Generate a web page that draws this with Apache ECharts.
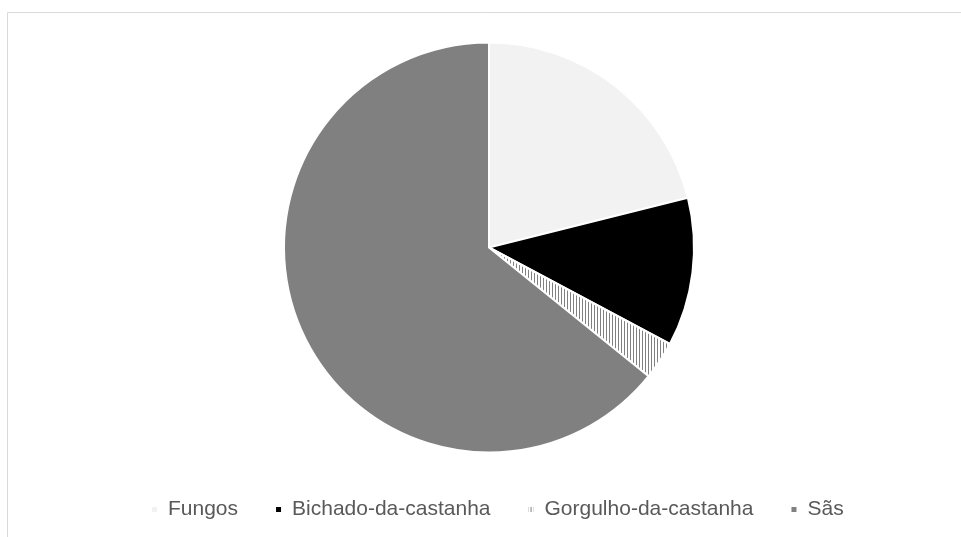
<!DOCTYPE html>
<html>
<head>
<meta charset="utf-8">
<script src="https://cdn.jsdelivr.net/npm/echarts@6/dist/echarts.min.js"></script>
<style>html,body{margin:0;padding:0;background:#fff;}#c{width:961px;height:537px;}</style>
</head>
<body>
<div id="c"></div>
<script>
const categories = ["Fungos", "Bichado-da-castanha", "Gorgulho-da-castanha", "Sãs"];
const values = [21.1, 11.7, 3.0, 64.2];

const pat = document.createElement('canvas');
pat.width = 3; pat.height = 4;
const pctx = pat.getContext('2d');
pctx.fillStyle = '#ffffff'; pctx.fillRect(0, 0, 3, 4);
pctx.fillStyle = '#808080'; pctx.fillRect(0, 0, 1, 4);

const colors = ['#f2f2f2', '#000000', { image: pat, repeat: 'repeat' }, '#808080'];

const chart = echarts.init(document.getElementById('c'), null, { renderer: 'canvas' });
chart.setOption({
  animation: false,
  backgroundColor: '#ffffff',
  graphic: [{
    type: 'rect', silent: true,
    shape: { x: 7.5, y: 12.5, width: 1000, height: 600 },
    style: { fill: 'none', stroke: '#d9d9d9', lineWidth: 1 }
  }],
  legend: {
    top: 494,
    left: 145,
    icon: 'rect',
    itemWidth: 7,
    itemHeight: 7,
    itemGap: 36,
    textStyle: { color: '#595959', fontSize: 21, fontFamily: 'Liberation Sans, Arial, sans-serif', padding: [0, 0, 0, 5] },
    data: categories
  },
  series: [{
    type: 'pie',
    center: [489, 247.5],
    radius: 205,
    startAngle: 90,
    clockwise: true,
    label: { show: false },
    labelLine: { show: false },
    emphasis: { disabled: true },
    itemStyle: { borderColor: '#ffffff', borderWidth: 2 },
    data: categories.map((n, i) => ({ name: n, value: values[i], itemStyle: { color: colors[i] } }))
  }]
});
</script>
</body>
</html>
